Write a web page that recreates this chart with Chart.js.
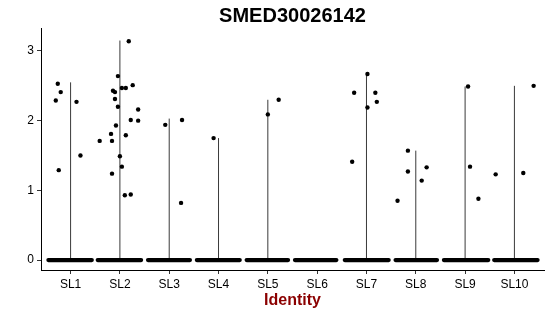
<!DOCTYPE html>
<html>
<head>
<meta charset="utf-8">
<script src="https://cdn.jsdelivr.net/npm/chart.js@4/dist/chart.umd.min.js"></script>
<style>
  html, body { margin: 0; padding: 0; background: #fff; }
  #vln { display: block; }
</style>
</head>
<body>
<canvas id="vln" width="550" height="316"></canvas>
<script>
// clusters on the x axis
const categories = ['SL1', 'SL2', 'SL3', 'SL4', 'SL5', 'SL6', 'SL7', 'SL8', 'SL9', 'SL10'];
// height reached by each (very thin) violin
const violinTop = [2.55, 3.15, 2.03, 1.75, 2.30, 0, 2.67, 1.57, 2.49, 2.50];
// spread of the zero-valued cells in each cluster
const zeroStart = [0.55, 1.55, 2.57, 3.56, 4.57, 5.55, 6.56, 7.59, 8.57, 9.59];
const zeroEnd = [1.43, 2.43, 3.42, 4.43, 5.41, 6.39, 7.45, 8.43, 9.47, 10.47];
// jittered cells with non-zero expression
const jitterX = [
  0.74, 0.80, 0.70, 1.12, 1.20, 0.76,
  2.18, 1.96, 2.04, 2.12, 2.26, 1.86, 1.90, 1.90, 1.96, 2.37, 2.22, 2.37, 1.92, 1.82, 1.59, 1.84, 2.12, 2.00, 2.04, 1.84, 2.10, 2.22,
  2.92, 3.26, 3.24,
  3.90,
  5.00, 5.22,
  7.02, 6.75, 7.18, 7.21, 7.02, 6.71,
  7.84, 7.84, 8.22, 8.12, 7.63,
  9.06, 9.10, 9.27, 9.62,
  10.39, 10.18
];
const jitterY = [
  2.53, 2.41, 2.29, 2.27, 1.50, 1.29,
  3.14, 2.64, 2.47, 2.47, 2.51, 2.43, 2.41, 2.31, 2.20, 2.16, 2.01, 2.00, 1.93, 1.81, 1.71, 1.71, 1.79, 1.49, 1.34, 1.24, 0.93, 0.94,
  1.94, 2.01, 0.82,
  1.75,
  2.09, 2.30,
  2.67, 2.40, 2.40, 2.27, 2.19, 1.41,
  1.57, 1.27, 1.33, 1.14, 0.85,
  2.49, 1.34, 0.88, 1.23,
  2.50, 1.25
];
const yTicks = [0, 1, 2, 3];

const FONT = '"Liberation Sans", Arial, Helvetica, sans-serif';

const datasets = [];

datasets.push({
  type: 'scatter',
  data: jitterX.map((x, i) => ({ x: x, y: jitterY[i] })),
  pointRadius: 2.2,
  pointBackgroundColor: '#000',
  pointBorderWidth: 0,
  order: 0
});

categories.forEach((c, i) => {
  datasets.push({
    type: 'line',
    data: [{ x: zeroStart[i], y: 0 }, { x: zeroEnd[i], y: 0 }],
    borderColor: '#000',
    borderWidth: 4.2,
    borderCapStyle: 'round',
    pointRadius: 0,
    order: 1
  });
  if (violinTop[i] > 0) {
    datasets.push({
      type: 'line',
      data: [{ x: i + 1, y: 0 }, { x: i + 1, y: violinTop[i] }],
      borderColor: '#3a3a3a',
      borderWidth: 1,
      pointRadius: 0,
      order: 2
    });
  }
});

new Chart(document.getElementById('vln'), {
  type: 'scatter',
  data: { datasets: datasets },
  options: {
    responsive: false,
    animation: false,
    layout: { padding: { left: 0, right: 6, top: 0, bottom: 0 } },
    plugins: {
      legend: { display: false },
      tooltip: { enabled: false },
      title: {
        display: true,
        text: 'SMED30026142',
        fullSize: false,
        color: '#000',
        font: { family: FONT, size: 20, weight: 'bold', lineHeight: 1.2 },
        padding: { top: 4, bottom: 0 }
      }
    },
    scales: {
      x: {
        type: 'linear',
        min: 0.4,
        max: 10.6,
        afterBuildTicks: (s) => { s.ticks = categories.map((c, i) => ({ value: i + 1 })); },
        afterFit: (s) => { s.height = 46; },
        ticks: {
          callback: (v) => categories[v - 1],
          color: '#000',
          padding: 3,
          maxRotation: 0,
          autoSkip: false,
          font: { family: FONT, size: 12 }
        },
        grid: { display: true, drawOnChartArea: false, drawTicks: true, tickLength: 4, color: '#333' },
        border: { display: true, color: '#000', width: 1 },
        title: {
          display: true,
          text: 'Identity',
          color: '#8b0000',
          font: { family: FONT, size: 16, weight: 'bold', lineHeight: 1.2 },
          padding: { top: 0, bottom: 6 }
        }
      },
      y: {
        type: 'linear',
        min: -0.143,
        max: 3.33,
        afterBuildTicks: (s) => { s.ticks = yTicks.map(v => ({ value: v })); },
        afterFit: (s) => { s.width = 41; },
        ticks: {
          color: '#000',
          padding: 3,
          font: { family: FONT, size: 12 }
        },
        grid: { display: true, drawOnChartArea: false, drawTicks: true, tickLength: 4, color: '#333' },
        border: { display: true, color: '#000', width: 1 }
      }
    }
  }
});
</script>
</body>
</html>
